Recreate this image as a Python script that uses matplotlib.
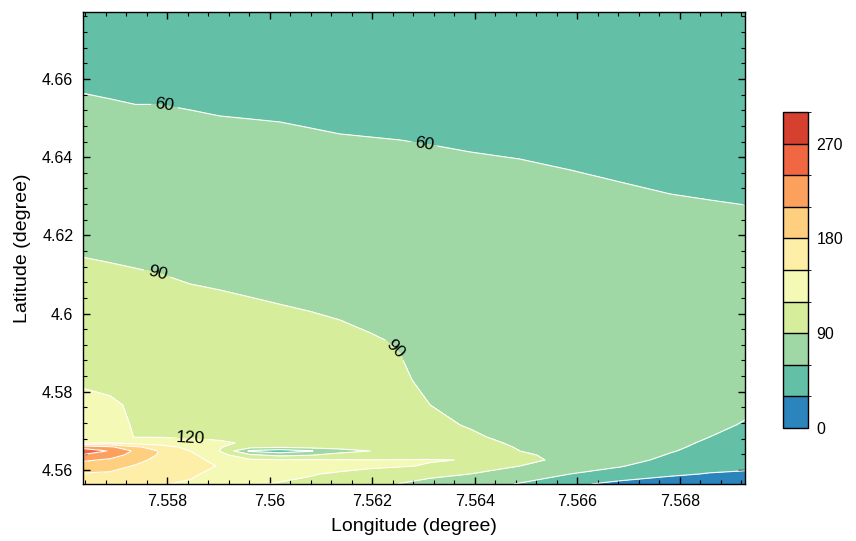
"""Filled contour map of the field over the study area, with a banded colorbar."""

import matplotlib

matplotlib.use("Agg")
import matplotlib.pyplot as plt
import numpy as np
from matplotlib.colors import BoundaryNorm, ListedColormap
from matplotlib.ticker import AutoMinorLocator, FixedLocator, FuncFormatter

# grid nodes (west -> east)
LON = [7.55636, 7.55689, 7.55738, 7.55786, 7.55845, 7.55903, 7.55962, 7.56020,
       7.56079, 7.56137, 7.56196, 7.56254, 7.56313, 7.56391, 7.56488, 7.56586,
       7.56683, 7.56781, 7.56858, 7.56927]
# grid nodes (north -> south), dense near the southern edge
LAT = [4.67714, 4.66486, 4.65207, 4.63673, 4.62138, 4.60604, 4.59325, 4.58302,
       4.57662, 4.57151, 4.56844, 4.56691, 4.56588, 4.56486, 4.56384, 4.56256,
       4.56102, 4.55898, 4.55642]

# field values, one row per LAT node, one column per LON node
VALUES = [
    [47, 46, 46, 45, 45, 44, 44, 43, 43, 43, 42, 42, 41, 41, 40, 40, 39, 39, 38, 38],
    [54, 53, 52, 52, 51, 50, 50, 49, 49, 48, 48, 47, 46, 46, 45, 44, 43, 42, 41, 41],
    [63, 62, 61, 61, 60, 59, 58.5, 58, 57, 56, 55.5, 55, 54.5, 53, 51, 50, 49, 48, 47, 46],
    [74, 73, 72, 71, 70, 69, 68.5, 68, 67, 66, 65.5, 65, 64, 63, 62, 60, 59, 58, 57, 56.5],
    [85, 84, 83, 82, 81, 80, 78, 77, 77, 76, 75, 73, 71, 70, 68, 65, 64, 63, 63, 62.5],
    [96, 95, 94, 93, 91, 90, 89, 88, 87, 87, 84, 82, 79, 77, 74, 70, 67, 65, 64, 64],
    [106, 104, 103, 101, 99, 97, 96, 95, 94, 92, 91, 89, 84, 81, 78, 74, 70, 68, 66, 65],
    [117, 113, 111, 108, 105, 103, 102, 101, 100, 97, 95, 92, 87, 84, 80, 77, 72, 69, 67, 65],
    [126, 124, 116, 113, 109, 107, 106, 105, 104, 101, 98, 94, 90, 86, 82, 79, 74, 70, 66, 63],
    [132, 131, 117, 115, 112, 110, 109, 108, 107, 104, 100, 96, 93, 89, 84, 81, 75, 70, 63, 59],
    [138, 133, 119, 119, 118, 116, 113, 111, 110, 107, 102, 97, 95, 92, 86, 82, 76, 69, 60, 55],
    [150, 148, 140, 135, 126, 123, 117, 114, 112, 108, 103, 98, 97, 94, 88, 83, 77, 67, 56, 52],
    [230, 215, 185, 165, 140, 122, 100, 95, 100, 100, 100, 99, 99, 96, 89, 84, 77, 65, 53, 49],
    [255, 238, 205, 178, 150, 119, 55, 42, 58, 80, 90, 100, 101, 98, 90, 85, 77, 62, 50, 46],
    [238, 225, 198, 177, 156, 130, 95, 82, 88, 100, 102, 104, 105, 103, 92, 86, 76, 58, 46, 42],
    [215, 205, 188, 172, 160, 140, 124, 122, 122, 121, 120.5, 121, 121.5, 119, 94, 86, 72, 52, 41, 37],
    [195, 190, 178, 166, 162, 148, 130, 128, 127, 125, 123, 122, 118, 110, 90, 80, 62, 44, 36, 33],
    [178, 176, 168, 158, 155, 140, 128, 124, 121, 118, 114, 105, 96, 90, 78, 60, 47, 33, 29, 28],
    [168, 165, 160, 152, 146, 132, 122, 119, 117, 113, 106, 89, 82, 74, 58, 36, 22, 20, 20, 22],
]

LEVELS = [0, 30, 60, 90, 120, 150, 180, 210, 240, 270, 300]
BAND_COLORS = ["#2c84bc", "#63c0a7", "#a0d8a5", "#d6ee9c", "#f4f9b5",
               "#feefa8", "#fecf7f", "#fca15d", "#f16744", "#d6402f"]
CBAR_TICKS = [0, 90, 180, 270]
X_TICKS = [7.558, 7.56, 7.562, 7.564, 7.566, 7.568]
Y_TICKS = [4.56, 4.58, 4.6, 4.62, 4.64, 4.66]
LABELLED_LEVELS = [60, 90, 120]
LABEL_SPOTS = [(7.55796, 4.65386), (7.56301, 4.64337), (7.55782, 4.61089),
               (7.56244, 4.59069), (7.55845, 4.56716)]

plt.rcParams.update({
    "font.family": ["Liberation Sans", "DejaVu Sans"],
    "axes.linewidth": 1.0,
})

lon = np.array(LON)
lat = np.array(LAT)[::-1]
z = np.array(VALUES, dtype=float)[::-1]

cmap = ListedColormap(BAND_COLORS)
norm = BoundaryNorm(LEVELS, cmap.N)

fig = plt.figure(figsize=(8.56, 5.41), dpi=100)
ax = fig.add_axes([0.0970, 0.1054, 0.7734, 0.8725])
cax = fig.add_axes([0.9147, 0.2089, 0.0292, 0.5841])

filled = ax.contourf(lon, lat, z, levels=LEVELS, cmap=cmap, norm=norm)

# plain white isolines, then the labelled ones drawn separately so clabel
# only has to deal with their own level list
plain = [lv for lv in LEVELS if lv not in LABELLED_LEVELS]
ax.contour(lon, lat, z, levels=plain, colors="white", linewidths=0.8)
labelled = ax.contour(lon, lat, z, levels=LABELLED_LEVELS, colors="white",
                      linewidths=0.8)
ax.clabel(labelled, manual=LABEL_SPOTS, fmt="%d", fontsize=12.5,
          colors="black", inline=True, inline_spacing=4)

ax.set_xlim(lon[0], lon[-1])
ax.set_ylim(lat[0], lat[-1])

fmt = FuncFormatter(lambda v, _: f"{v:g}")
ax.xaxis.set_major_locator(FixedLocator(X_TICKS))
ax.yaxis.set_major_locator(FixedLocator(Y_TICKS))
ax.xaxis.set_major_formatter(fmt)
ax.yaxis.set_major_formatter(fmt)
ax.xaxis.set_minor_locator(AutoMinorLocator(5))
ax.yaxis.set_minor_locator(AutoMinorLocator(5))
ax.tick_params(which="both", direction="in", top=True, right=True,
               labelsize=11.5, pad=7)
ax.tick_params(which="major", length=5, width=1.0)
ax.tick_params(which="minor", length=3, width=0.8)

ax.set_xlabel("Longitude (degree)", fontsize=14, labelpad=7)
ax.set_ylabel("Latitude (degree)", fontsize=14, labelpad=8)

cbar = fig.colorbar(filled, cax=cax, ticks=CBAR_TICKS, drawedges=True)
cbar.outline.set_edgecolor("black")
cbar.outline.set_linewidth(1.0)
cbar.dividers.set_color("black")
cbar.dividers.set_linewidth(1.0)
cbar.ax.tick_params(length=0, labelsize=11.5, pad=6)

fig.savefig("out.png", dpi=100)
